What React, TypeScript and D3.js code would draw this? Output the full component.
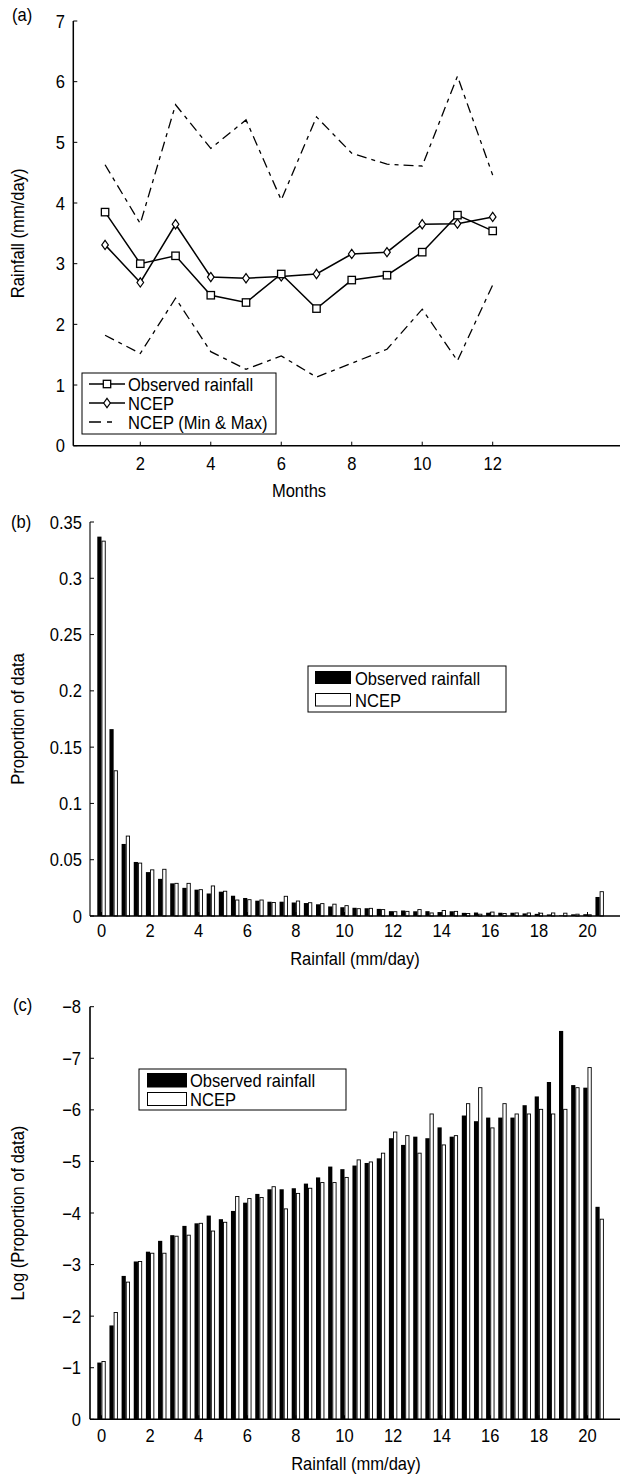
import React from "react";
import * as d3 from "d3";

// ---------- Data ----------
const months = [1, 2, 3, 4, 5, 6, 7, 8, 9, 10, 11, 12];
const observedRain = [3.85, 3.0, 3.13, 2.48, 2.36, 2.83, 2.26, 2.73, 2.81, 3.19, 3.8, 3.54];
const ncepRain = [3.31, 2.69, 3.65, 2.78, 2.76, 2.79, 2.83, 3.16, 3.19, 3.65, 3.66, 3.77];
const ncepMax = [4.63, 3.66, 5.62, 4.9, 5.37, 4.05, 5.42, 4.82, 4.64, 4.61, 6.09, 4.46];
const ncepMin = [1.82, 1.52, 2.43, 1.55, 1.26, 1.48, 1.13, 1.36, 1.59, 2.25, 1.4, 2.65];

const bins = [
  0, 0.5, 1, 1.5, 2, 2.5, 3, 3.5, 4, 4.5, 5, 5.5, 6, 6.5, 7, 7.5, 8, 8.5, 9, 9.5, 10,
  10.5, 11, 11.5, 12, 12.5, 13, 13.5, 14, 14.5, 15, 15.5, 16, 16.5, 17, 17.5, 18, 18.5,
  19, 19.5, 20, 20.5,
];
const propObserved = [
  0.337, 0.166, 0.064, 0.048, 0.039, 0.033, 0.029, 0.025, 0.0234, 0.02, 0.0216, 0.018,
  0.016, 0.0136, 0.0127, 0.0127, 0.012, 0.0115, 0.0104, 0.0085, 0.0078, 0.0073, 0.0069,
  0.0063, 0.0043, 0.0049, 0.0042, 0.0043, 0.0035, 0.0042, 0.0028, 0.0031, 0.0029, 0.0029,
  0.0029, 0.0023, 0.0019, 0.0014, 0.0005, 0.0015, 0.0016, 0.0169,
];
const propNcep = [
  0.333, 0.129, 0.071, 0.047, 0.041, 0.0415, 0.029, 0.029, 0.0234, 0.0267, 0.022, 0.0142,
  0.0145, 0.0142, 0.012, 0.0175, 0.0133, 0.0118, 0.011, 0.0105, 0.0092, 0.0065, 0.0068,
  0.0057, 0.0038, 0.0041, 0.0057, 0.0027, 0.0049, 0.0041, 0.0022, 0.0016, 0.0035, 0.0022,
  0.0027, 0.0027, 0.0025, 0.0027, 0.0025, 0.0016, 0.0011, 0.0216,
];
const logObserved = [
  -1.1, -1.82, -2.78, -3.06, -3.25, -3.46, -3.57, -3.75, -3.8, -3.95, -3.88, -4.04, -4.2,
  -4.37, -4.46, -4.46, -4.48, -4.57, -4.69, -4.9, -4.85, -4.92, -4.97, -5.06, -5.45, -5.32,
  -5.48, -5.45, -5.66, -5.48, -5.89, -5.78, -5.85, -5.85, -5.85, -6.09, -6.26, -6.54,
  -7.53, -6.48, -6.43, -4.12,
];
const logNcep = [
  -1.12, -2.07, -2.66, -3.06, -3.22, -3.22, -3.55, -3.57, -3.8, -3.65, -3.82, -4.32, -4.28,
  -4.3, -4.51, -4.08, -4.38, -4.48, -4.59, -4.59, -4.69, -5.03, -4.99, -5.16, -5.57, -5.5,
  -5.16, -5.92, -5.32, -5.5, -6.12, -6.43, -5.65, -6.12, -5.92, -5.92, -6.01, -5.92, -6.01,
  -6.43, -6.82, -3.88,
];

const monthTicks = [2, 4, 6, 8, 10, 12];
const rainTicksA = [0, 1, 2, 3, 4, 5, 6, 7];
const rainfallTicks = [0, 2, 4, 6, 8, 10, 12, 14, 16, 18, 20];
const propTicks = [0, 0.05, 0.1, 0.15, 0.2, 0.25, 0.3, 0.35];
const propTickLabels = ["0", "0.05", "0.1", "0.15", "0.2", "0.25", "0.3", "0.35"];
const logTicks = [0, -1, -2, -3, -4, -5, -6, -7, -8];

// ---------- Layout ----------
const FONT = "'Liberation Sans', Arial, Helvetica, sans-serif";
const FS = 18;
const SX = 0.92;
const RIGHT = 620;

const xA = d3.scaleLinear().domain([2, 12]).range([140.3, 492.7]);
const yA = d3.scaleLinear().domain([0, 7]).range([445.7, 21]);
const A_LEFT = 73.3;

const xB = d3.scaleLinear().domain([0, 20]).range([101.5, 587.5]);
const yB = d3.scaleLinear().domain([0, 0.35]).range([916, 522]);
const yC = d3.scaleLinear().domain([0, -8]).range([1419.3, 1006.7]);
const BC_LEFT = 90;

const BAR_W = 4.2;

const fmtMinus = (v: number) => (v < 0 ? "\u2212" + Math.abs(v) : String(v));

function T({
  x,
  y,
  anchor = "start",
  rotate = 0,
  children,
}: {
  x: number;
  y: number;
  anchor?: string;
  rotate?: number;
  children: React.ReactNode;
}) {
  return (
    <text
      transform={`translate(${x},${y}) rotate(${rotate}) scale(${SX},1)`}
      textAnchor={anchor}
      fontSize={FS}
      fontFamily={FONT}
      fill="black"
    >
      {children}
    </text>
  );
}

function Square({ x, y }: { x: number; y: number }) {
  return <rect x={x - 3.7} y={y - 3.7} width={7.4} height={7.4} fill="white" stroke="black" strokeWidth={1.3} />;
}
function Diamond({ x, y }: { x: number; y: number }) {
  return (
    <path
      d={`M${x},${y - 4.6}L${x + 3.3},${y}L${x},${y + 4.6}L${x - 3.3},${y}Z`}
      fill="white"
      stroke="black"
      strokeWidth={1.2}
    />
  );
}

const DASH = "10,5,4,5";

function PanelA() {
  const line = d3
    .line<number>()
    .x((_, i) => xA(months[i]))
    .y((d) => yA(d));
  return (
    <g>
      <T x={12} y={21}>(a)</T>
      <line x1={A_LEFT} y1={yA(7)} x2={A_LEFT} y2={yA(0)} stroke="black" strokeWidth={1.5} />
      <line x1={A_LEFT} y1={yA(0)} x2={RIGHT} y2={yA(0)} stroke="black" strokeWidth={1.5} />
      {rainTicksA.map((t) => (
        <g key={t}>
          <line x1={A_LEFT} x2={A_LEFT + 4} y1={yA(t)} y2={yA(t)} stroke="black" strokeWidth={1} />
          <T x={65} y={yA(t) + 6.5} anchor="end">{t}</T>
        </g>
      ))}
      {monthTicks.map((t) => (
        <g key={t}>
          <line x1={xA(t)} x2={xA(t)} y1={yA(0)} y2={yA(0) - 4} stroke="black" strokeWidth={1} />
          <T x={xA(t)} y={469.5} anchor="middle">{t}</T>
        </g>
      ))}
      <T x={299} y={496.5} anchor="middle">Months</T>
      <T x={24} y={(yA(0) + yA(7)) / 2} anchor="middle" rotate={-90}>Rainfall (mm/day)</T>
      <path d={line(ncepMax) || ""} fill="none" stroke="black" strokeWidth={1.3} strokeDasharray={DASH} />
      <path d={line(ncepMin) || ""} fill="none" stroke="black" strokeWidth={1.3} strokeDasharray={DASH} />
      <path d={line(observedRain) || ""} fill="none" stroke="black" strokeWidth={1.5} />
      <path d={line(ncepRain) || ""} fill="none" stroke="black" strokeWidth={1.5} />
      {ncepRain.map((v, i) => (
        <Diamond key={"d" + i} x={xA(months[i])} y={yA(v)} />
      ))}
      {observedRain.map((v, i) => (
        <Square key={"s" + i} x={xA(months[i])} y={yA(v)} />
      ))}
      <rect x={82} y={373} width={194} height={61} fill="white" stroke="black" strokeWidth={1} />
      <line x1={89} x2={125} y1={384} y2={384} stroke="black" strokeWidth={1.5} />
      <Square x={107} y={384} />
      <T x={128} y={390.5}>Observed rainfall</T>
      <line x1={89} x2={125} y1={403} y2={403} stroke="black" strokeWidth={1.5} />
      <Diamond x={107} y={403} />
      <T x={128} y={409.5}>NCEP</T>
      <line x1={89} x2={125} y1={422} y2={422} stroke="black" strokeWidth={1.3} strokeDasharray="12,6,5,20" />
      <T x={128} y={428.5}>NCEP (Min &amp; Max)</T>
    </g>
  );
}

function Bars({ obs, ncep, y }: { obs: number[]; ncep: number[]; y: d3.ScaleLinear<number, number> }) {
  const y0 = y(0);
  return (
    <g>
      {bins.map((b, i) => {
        const c = xB(b);
        const yo = y(obs[i]);
        const yn = y(ncep[i]);
        return (
          <g key={i}>
            <rect x={c - BAR_W} y={Math.min(yo, y0)} width={BAR_W} height={Math.abs(y0 - yo)} fill="black" />
            <rect
              x={c + 0.45}
              y={Math.min(yn, y0)}
              width={BAR_W - 0.9}
              height={Math.abs(y0 - yn)}
              fill="white"
              stroke="black"
              strokeWidth={0.9}
            />
          </g>
        );
      })}
    </g>
  );
}

function PanelB() {
  return (
    <g>
      <T x={11} y={528}>(b)</T>
      <Bars obs={propObserved} ncep={propNcep} y={yB} />
      <line x1={BC_LEFT} y1={yB(0.35)} x2={BC_LEFT} y2={yB(0)} stroke="black" strokeWidth={1.1} />
      <line x1={BC_LEFT} y1={yB(0)} x2={RIGHT} y2={yB(0)} stroke="black" strokeWidth={1.3} />
      {propTicks.map((t, i) => (
        <g key={t}>
          <line x1={BC_LEFT} x2={BC_LEFT + 4} y1={yB(t)} y2={yB(t)} stroke="black" strokeWidth={1} />
          <T x={82} y={yB(t) + 6.5} anchor="end">{propTickLabels[i]}</T>
        </g>
      ))}
      {rainfallTicks.map((t) => (
        <g key={t}>
          <line x1={xB(t)} x2={xB(t)} y1={yB(0)} y2={yB(0) - 4} stroke="black" strokeWidth={1} />
          <T x={xB(t)} y={936.5} anchor="middle">{t}</T>
        </g>
      ))}
      <T x={355} y={964.5} anchor="middle">Rainfall (mm/day)</T>
      <T x={24} y={(yB(0) + yB(0.35)) / 2} anchor="middle" rotate={-90}>Proportion of data</T>
      <rect x={308} y={666} width={198} height={46} fill="white" stroke="black" strokeWidth={1} />
      <rect x={315} y={671} width={36} height={13} fill="black" />
      <rect x={315.5} y={693.5} width={35} height={12.5} fill="white" stroke="black" strokeWidth={1} />
      <T x={355} y={684.5}>Observed rainfall</T>
      <T x={355} y={706.5}>NCEP</T>
    </g>
  );
}

function PanelC() {
  return (
    <g>
      <T x={13} y={1011}>(c)</T>
      <Bars obs={logObserved} ncep={logNcep} y={yC} />
      <line x1={BC_LEFT} y1={yC(-8)} x2={BC_LEFT} y2={yC(0)} stroke="black" strokeWidth={1.6} />
      <line x1={BC_LEFT} y1={yC(0)} x2={RIGHT} y2={yC(0)} stroke="black" strokeWidth={1.4} />
      {logTicks.map((t) => (
        <g key={t}>
          <line x1={BC_LEFT} x2={BC_LEFT + 4} y1={yC(t)} y2={yC(t)} stroke="black" strokeWidth={1} />
          <T x={81} y={yC(t) + 6.5} anchor="end">{fmtMinus(t)}</T>
        </g>
      ))}
      {rainfallTicks.map((t) => (
        <g key={t}>
          <line x1={xB(t)} x2={xB(t)} y1={yC(0)} y2={yC(0) - 4} stroke="black" strokeWidth={1} />
          <T x={xB(t)} y={1441.5} anchor="middle">{t}</T>
        </g>
      ))}
      <T x={356} y={1469.5} anchor="middle">Rainfall (mm/day)</T>
      <T x={24} y={(yC(0) + yC(-8)) / 2} anchor="middle" rotate={-90}>Log (Proportion of data)</T>
      <rect x={139} y={1069} width={207} height={41} fill="white" stroke="black" strokeWidth={1} />
      <rect x={147} y={1073} width={40} height={14.5} fill="black" />
      <rect x={147.5} y={1092.5} width={39} height={13} fill="white" stroke="black" strokeWidth={1} />
      <T x={190} y={1086.5}>Observed rainfall</T>
      <T x={190} y={1105.5}>NCEP</T>
    </g>
  );
}

export default function App() {
  return (
    <svg
      width={621}
      height={1475}
      viewBox="0 0 621 1475"
      style={{ position: "absolute", left: 0, top: 0, background: "white" }}
    >
      <rect x={0} y={0} width={621} height={1475} fill="white" />
      <PanelA />
      <PanelB />
      <PanelC />
    </svg>
  );
}
